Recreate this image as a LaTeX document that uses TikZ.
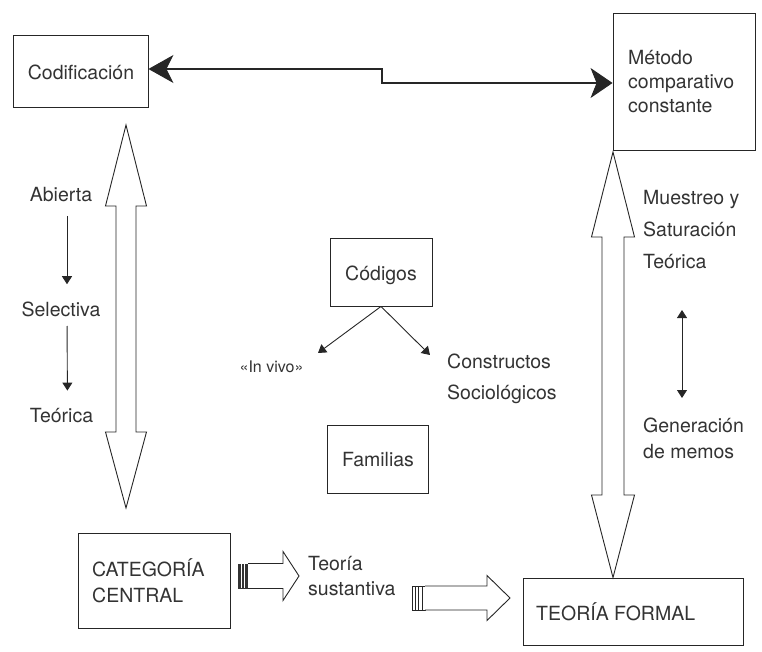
\documentclass[tikz,border=0pt]{standalone}
\usepackage{fontspec}
\setmainfont{TeX Gyre Heros}
\usetikzlibrary{arrows.meta}
\begin{document}
\begin{tikzpicture}[x=1pt,y=-1pt,
  txt/.style={font=\fontsize{19.5}{23}\selectfont, text=black!80, inner sep=0pt},
  box/.style={draw=black!85, line width=0.9pt, inner sep=0pt},
  ln/.style={draw=black!85, line width=0.9pt},
  hollow/.style={draw=black!85, line width=0.9pt, fill=white, line join=miter},
  tipone/.style={-{Triangle[length=8pt,width=10pt]}},
  tiptwo/.style={{Triangle[length=8pt,width=10pt]}-{Triangle[length=8pt,width=10pt]}},
  bigtips/.style={{Stealth[length=25pt,width=28pt,inset=7pt]}-{Stealth[length=22pt,width=30pt,inset=6pt]}},
]
\useasboundingbox (0,0) rectangle (762,652);

% ---- boxes ----
\node[box, minimum width=135pt, minimum height=72pt] (cod) at (80.5,71) {};
\node[box, minimum width=142pt, minimum height=137pt] (met) at (684,81.5) {};
\node[box, minimum width=102pt, minimum height=68pt] (cods) at (381,272) {};
\node[box, minimum width=101pt, minimum height=68pt] (fam) at (377.5,459) {};
\node[box, minimum width=152pt, minimum height=95pt] (cat) at (154,580.5) {};
\node[box, minimum width=220pt, minimum height=67pt] (tf) at (633,611.5) {};

% ---- texts (multi-line nodes sit on the baseline of their last line) ----
\node[txt, anchor=base] (codt) at (81,80) {Codificación};
\node[txt, anchor=base west, align=left, font=\fontsize{19.5}{24}\selectfont] (mett) at (628,113) {Método\\comparativo\\constante};
\node[txt, anchor=base] (codst) at (381,280) {Códigos};
\node[txt, anchor=base] (famt) at (378,466) {Familias};
\node[txt, anchor=base west, align=left, font=\fontsize{19.5}{26}\selectfont] (catt) at (92,602) {CATEGORÍA\\CENTRAL};
\node[txt, anchor=base west] (tft) at (536,620) {TEORÍA FORMAL};

\node[txt, anchor=base] (ab) at (61,202) {Abierta};
\node[txt, anchor=base] (sel) at (61,316) {Selectiva};
\node[txt, anchor=base] (teo) at (61.5,422) {Teórica};

\node[txt, anchor=base, font=\fontsize{16}{20}\selectfont] (inv) at (271.5,372) {«In vivo»};
\node[txt, anchor=base west, align=left, font=\fontsize{19.5}{31}\selectfont] (cons) at (447,399) {Constructos\\Sociológicos};

\node[txt, anchor=base west, align=left, font=\fontsize{19.5}{31.5}\selectfont] (mue) at (643,268) {Muestreo y\\Saturación\\Teórica};
\node[txt, anchor=base west, align=left, font=\fontsize{19.5}{26}\selectfont] (gen) at (643,458) {Generación\\de memos};

\node[txt, anchor=base west, align=left, font=\fontsize{19.5}{25}\selectfont] (sus) at (308,595) {Teoría\\sustantiva};

% ---- line connector between Codificación and Método ----
\coordinate (bend) at (382,0);
\draw[ln, line width=1.1pt, bigtips] ([yshift=2pt]cod.east) -- ([yshift=2pt]cod.east -| bend) |- ([yshift=-1.5pt]met.west);

% ---- coding sequence ----
\draw[ln, tipone, shorten <=14pt, shorten >=17pt] ([xshift=6pt]ab.base) -- ([xshift=6pt]sel.north);
\draw[ln, tipone, shorten <=10pt, shorten >=17pt] ([xshift=6pt]sel.base) -- ([xshift=6pt]teo.north);

% ---- Códigos branches ----
\coordinate (invtip) at (318,353);
\coordinate (constip) at (430,355);
\draw[ln, tipone] (cods.south) -- (invtip);
\draw[ln, tipone] (cods.south) -- (constip);

% ---- memo exchange ----
\coordinate (memtop) at (682,310);
\coordinate (membot) at (682,398);
\draw[ln, tiptwo] (memtop) -- (membot);

% ---- hollow double arrow, left ----
\draw[hollow] (126,125) -- (146.5,206) -- (136,206) -- (136,432) -- (146.5,432)
  -- (126,508) -- (105.5,432) -- (116,432) -- (116,206) -- (105.5,206) -- cycle;

% ---- hollow double arrow, right ----
\coordinate (rax) at (613,0);
\draw[hollow] (613,152) -- (634.5,237) -- (624,237) -- (624,495) -- (634.5,495)
  -- (rax |- tf.north) -- (591.5,495) -- (602,495) -- (602,237) -- (591.5,237) -- cycle;

% ---- hollow arrow: central category to substantive theory ----
\fill[black!80] (238,563.5) rectangle (248,588.5);
\draw[white, line width=0.6pt] (241,564) -- (241,588) (244.5,564) -- (244.5,588);
\draw[hollow] (248,563.5) -- (283,563.5) -- (283,551.5) -- (299,576) -- (283,600.5)
  -- (283,588.5) -- (248,588.5);

% ---- hollow arrow: substantive theory to formal theory ----
\draw[ln, line width=0.7pt] (412,586) rectangle (425,610);
\draw[ln, line width=0.7pt] (415,586) -- (415,610) (418.5,586) -- (418.5,610) (422,586) -- (422,610);
\draw[hollow] (425,586) -- (487,586) -- (487,575.5) -- (510,598) -- (487,620.5)
  -- (487,610) -- (425,610);
\end{tikzpicture}
\end{document}
